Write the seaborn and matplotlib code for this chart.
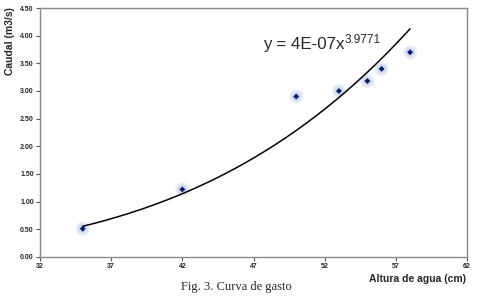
import numpy as np
import pandas as pd
import matplotlib
matplotlib.use("Agg")
import matplotlib.pyplot as plt
import seaborn as sns

# data
altura = [35, 42, 50, 53, 55, 56, 58]
caudal = [0.51, 1.22, 2.90, 3.00, 3.18, 3.40, 3.70]
coef_a = 4e-07
coef_b = 3.9771

xticks = [32, 37, 42, 47, 52, 57, 62]
yticks = [0.0, 0.5, 1.0, 1.5, 2.0, 2.5, 3.0, 3.5, 4.0, 4.5]

sns.set_style("white")
plt.rcParams['font.family'] = ['Liberation Sans', 'DejaVu Sans']

df = pd.DataFrame({'altura': altura, 'caudal': caudal})
xs = np.linspace(min(altura), max(altura), 200)
trend = pd.DataFrame({'x': xs, 'y': coef_a * xs ** coef_b})

fig = plt.figure(figsize=(4.79, 2.97), dpi=100)
ax = fig.add_axes([0.0835, 0.135, 0.8915, 0.838])

# soft glow around the markers
sns.scatterplot(data=df, x='altura', y='caudal', ax=ax, s=100, color='#b4c2e6',
                alpha=0.3, edgecolor='none', zorder=2)
sns.scatterplot(data=df, x='altura', y='caudal', ax=ax, s=45, color='#b8c4e8',
                alpha=0.45, edgecolor='none', zorder=2)
sns.lineplot(data=trend, x='x', y='y', ax=ax, color='black', lw=1.1, zorder=3)
sns.scatterplot(data=df, x='altura', y='caudal', ax=ax, s=9, marker='D',
                color='#0a1a6a', edgecolor='none', zorder=4)

ax.set_xlim(32, 62)
ax.set_ylim(0, 4.5)
ax.set_xticks(xticks)
ax.set_xticklabels([str(v) for v in xticks])
ax.set_yticks(yticks)
ax.set_yticklabels(['%.2f' % v for v in yticks])
ax.tick_params(axis='both', labelsize=5, length=3, width=0.8, color='#555555',
               direction='out', pad=1.5)
ax.tick_params(axis='both', which='both', bottom=True, left=True)
for lab in ax.get_xticklabels() + ax.get_yticklabels():
    lab.set_fontweight('bold')
for sp in ax.spines.values():
    sp.set_color('#8a8a8a')
    sp.set_linewidth(1.0)
ax.set_xlabel('')
ax.set_ylabel('')

fig.text(0.021, 0.975, 'Caudal (m3/s)', rotation=90, ha='center', va='top',
         fontsize=7.5, fontweight='bold')
fig.text(0.973, 0.062, 'Altura de agua (cm)', ha='right', va='center',
         fontsize=7.5, fontweight='bold')
fig.text(0.494, 0.032, 'Fig. 3. Curva de gasto', ha='center', va='center',
         fontsize=9, family=['Liberation Serif', 'DejaVu Serif'])

# trend-line equation
eq = ax.text(47.67, 3.84, 'y = 4E-07x', fontsize=12.2, ha='left', va='center')
ax.annotate('3.9771', xy=(1.0, 0.42), xycoords=eq, fontsize=8.5,
            ha='left', va='bottom')

fig.savefig('out.png', dpi=100)
